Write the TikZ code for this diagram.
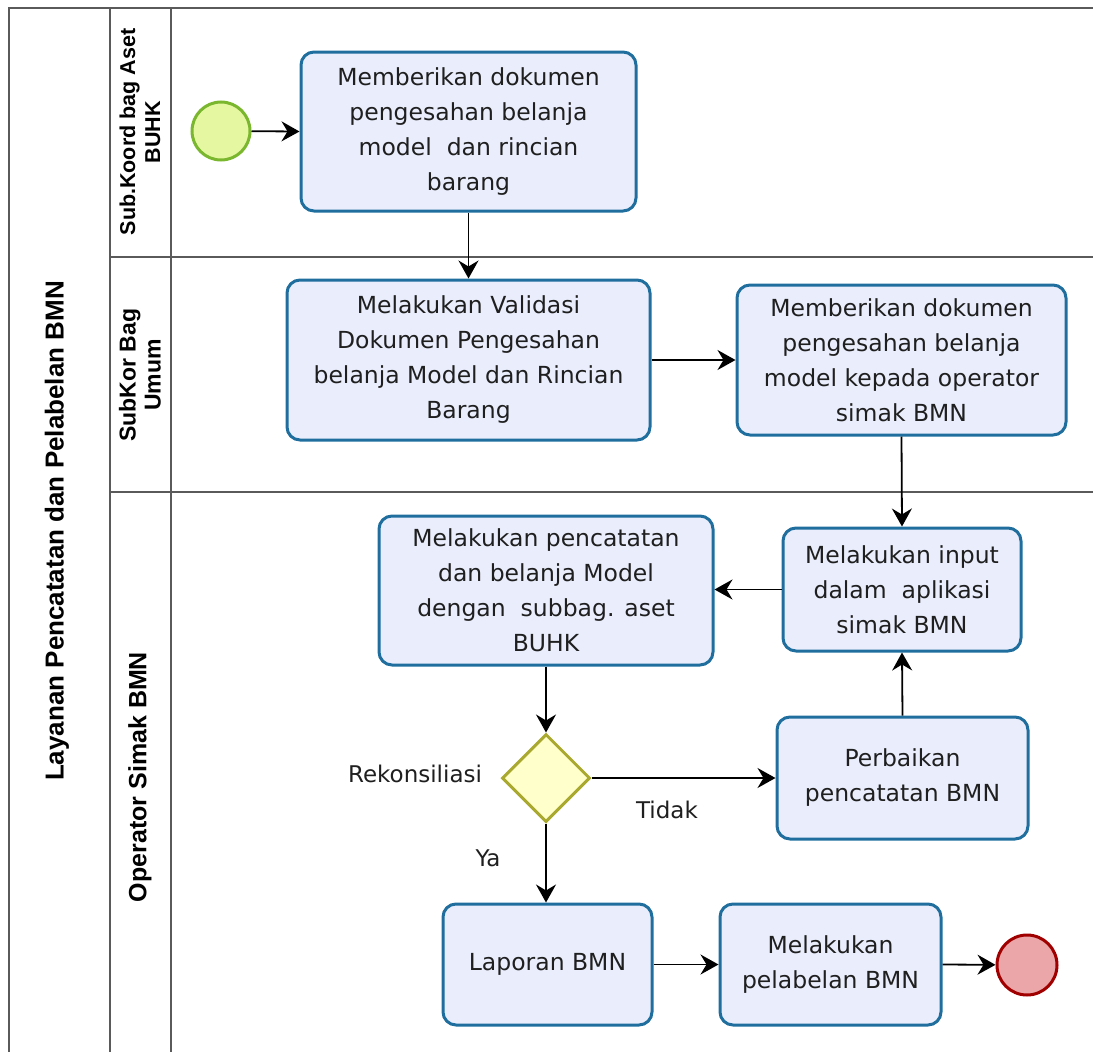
\documentclass[tikz,border=0pt]{standalone}
\usepackage{fontspec}
\setmainfont{DejaVu Sans}
\newfontfamily\lanefont{Liberation Sans}
\usepackage{xcolor}
\usetikzlibrary{arrows.meta,shapes.geometric,calc}
\definecolor{TaskFill}{HTML}{EAEEFC}
\definecolor{TaskLine}{HTML}{1F6E9E}
\definecolor{StartFill}{HTML}{E6F7A2}
\definecolor{StartLine}{HTML}{7AB72E}
\definecolor{EndFill}{HTML}{EBA6A9}
\definecolor{EndLine}{HTML}{A00000}
\definecolor{GateFill}{HTML}{FFFFCC}
\definecolor{GateLine}{HTML}{A9A92F}
\definecolor{PoolLine}{HTML}{5A5A5A}
\tikzset{
  flowarrow/.style={-{Stealth[length=18pt,width=20pt,inset=6pt]}, line width=1.8pt, draw=black},
  flowlabel/.style={font=\fontsize{23}{35}\selectfont, text=black!88, inner sep=0pt},
  lanelabel/.style={rotate=90, align=center, font=\lanefont\bfseries\fontsize{25}{26}\selectfont}
}
\begin{document}
\begin{tikzpicture}[x=1pt, y=-1pt,
  task/.style={draw=TaskLine, fill=TaskFill, line width=3pt, rounded corners=13pt, align=center,
    text=black!88, font=\fontsize{23.5}{35}\selectfont, inner sep=2pt},
  event/.style={circle, line width=3pt, minimum size=58pt, inner sep=0pt},
  gate/.style={diamond, draw=GateLine, fill=GateFill, line width=3pt, minimum size=88pt, inner sep=0pt}
]
\useasboundingbox (0,0) rectangle (1093,1052);
% pool and lanes
\draw[PoolLine, line width=1.5pt] (1093,8) -- (9,8) -- (9,1052);
\draw[PoolLine, line width=1.5pt] (110,8) -- (110,1052);
\draw[PoolLine, line width=1.5pt] (171,8) -- (171,1052);
\draw[PoolLine, line width=1.5pt] (110,257) -- (1093,257);
\draw[PoolLine, line width=1.5pt] (110,492) -- (1093,492);
\node[lanelabel, font=\lanefont\bfseries\fontsize{26}{26}\selectfont] (pool) at (57,531) {Layanan Pencatatan dan Pelabelan BMN};
\node[lanelabel, font=\lanefont\bfseries\fontsize{21.5}{25}\selectfont] (lane1) at (140,132) {Sub.Koord bag Aset\\BUHK};
\node[lanelabel, font=\lanefont\bfseries\fontsize{23}{25}\selectfont] (lane2) at (140,375) {SubKor Bag\\Umum};
\node[lanelabel] (lane3) at (140,777) {Operator Simak BMN};

% flow nodes
\node[event, draw=StartLine, fill=StartFill] (start) at (221,131) {};
\node[task, minimum width=335pt, minimum height=159pt] (t1) at (468.5,131.5)
  {Memberikan dokumen\\pengesahan belanja\\model\ \ dan rincian\\barang};
\node[task, minimum width=363pt, minimum height=160pt] (t2) at (468.5,360)
  {Melakukan Validasi\\Dokumen Pengesahan\\belanja Model dan Rincian\\Barang};
\node[task, minimum width=329pt, minimum height=150pt] (t3) at (901.5,360)
  {Memberikan dokumen\\pengesahan belanja\\model kepada operator\\simak BMN};
\node[task, minimum width=238pt, minimum height=123pt] (t5) at (902,589.5)
  {Melakukan input\\dalam\ \ aplikasi\\simak BMN};
\node[task, minimum width=334pt, minimum height=149pt] (t4) at (546,590.5)
  {Melakukan pencatatan\\dan belanja Model\\dengan\ \ subbag. aset\\BUHK};
\node[gate] (gw) at (546,778) {};
\node[task, minimum width=251pt, minimum height=122pt] (t6) at (902.5,778)
  {Perbaikan\\pencatatan BMN};
\node[task, minimum width=209pt, minimum height=121pt] (t7) at (547.5,964.5) {Laporan BMN};
\node[task, minimum width=221pt, minimum height=121pt] (t8) at (830.5,964.5)
  {Melakukan\\pelabelan BMN};
\node[event, draw=EndLine, fill=EndFill, minimum size=60pt] (end) at (1027,965) {};

\node[flowlabel] (rek) at (415,774) {Rekonsiliasi};
\node[flowlabel] (tidak) at (667,810) {Tidak};
\node[flowlabel] (ya) at (488,858) {Ya};

% sequence flows
\draw[flowarrow] (start) -- (t1.west);
\draw[flowarrow] (t1.south) -- (t2.north);
\draw[flowarrow] (t2.east) -- (t3.west);
\draw[flowarrow] (t3.south) -- (t5.north);
\draw[flowarrow] (t5.west) -- (t4.east |- t5.west);
\draw[flowarrow] (t4.south) -- (gw.north);
\draw[flowarrow] (gw.east) -- (t6.west);
\draw[flowarrow] (t6.north) -- (t5.south);
\draw[flowarrow] (gw.south) -- (gw.south |- t7.north);
\draw[flowarrow] (t7.east) -- (t8.west);
\draw[flowarrow] (t8.east) -- (end);
\end{tikzpicture}
\end{document}
